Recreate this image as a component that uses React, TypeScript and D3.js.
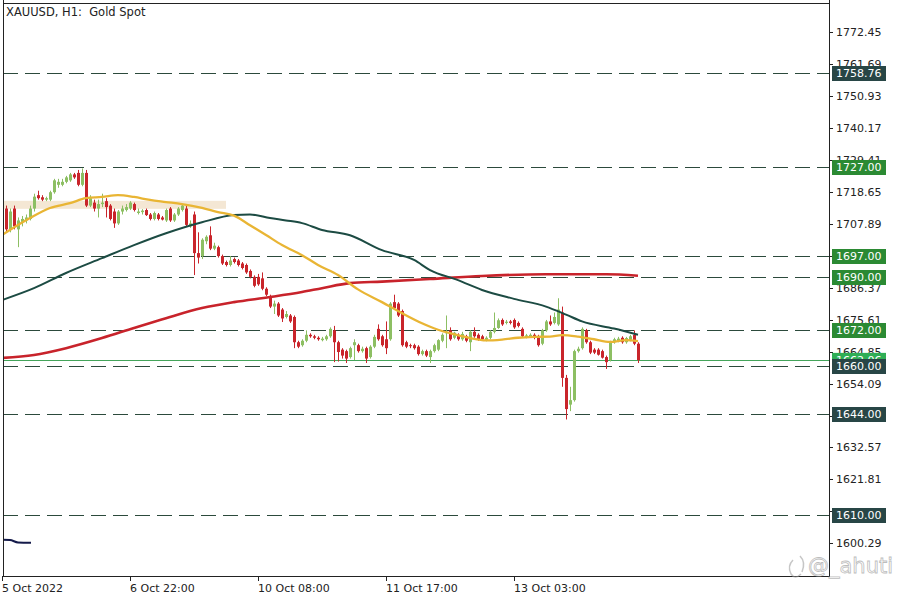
import * as d3 from "d3";

// --- data (H1 bars, index 0 = first bar at the left edge) ---
const opens = [
  1712, 1713, 1706, 1713, 1706, 1708.5, 1709, 1709.5, 1713, 1717.5, 1716.8,
  1716, 1716, 1718.5, 1721, 1721, 1722, 1722.5, 1724.5, 1725, 1721,
  1725, 1714, 1715, 1713, 1714.5, 1715.5, 1714, 1712, 1708, 1712,
  1712.5, 1713, 1714.5, 1711.5, 1711.8, 1712.5, 1711, 1709.5, 1711, 1710,
  1709, 1713, 1709, 1711, 1712.5, 1713, 1707, 1711, 1698, 1697,
  1702, 1704, 1699.5, 1700, 1697, 1695, 1694, 1696, 1695.5, 1694.5,
  1694, 1692, 1690, 1690, 1689.5, 1686, 1683.5, 1680, 1681, 1679,
  1676.5, 1677, 1676.5, 1668, 1667, 1668.5, 1670.5, 1670, 1669.5, 1668.7,
  1669, 1670, 1672, 1668, 1665.5, 1665, 1663, 1667, 1667, 1665,
  1666, 1663, 1666.5, 1672.5, 1670, 1669, 1669, 1681.5, 1681, 1678.5,
  1668, 1667, 1667, 1666.5, 1664, 1665, 1663, 1665, 1665.5, 1668.5,
  1671, 1672, 1669.5, 1670.5, 1669, 1670, 1668, 1671.5, 1670.5, 1670,
  1668.8, 1669.5, 1671.5, 1672.8, 1675.5, 1674.5, 1675, 1675.5, 1674.5, 1672.5,
  1669.8, 1670, 1670.5, 1670, 1667.5, 1672, 1675, 1674.5, 1674, 1678,
  1656, 1647, 1648.5, 1665, 1666, 1672, 1668, 1665.5, 1665.5, 1665,
  1663, 1662, 1668, 1668.5, 1669.5, 1668, 1668.8, 1670.5, 1667.5,
];
const highs = [
  1714, 1714, 1713, 1714, 1710, 1710.5, 1711, 1714, 1718, 1719, 1717.5,
  1717, 1719, 1723, 1723, 1723, 1724, 1725, 1725, 1726, 1726.5,
  1726, 1717.5, 1716, 1716, 1718, 1716.5, 1714.5, 1713, 1712.5, 1714,
  1714.5, 1715.5, 1715, 1713, 1712.8, 1713, 1711.5, 1712, 1711.5, 1710.5,
  1713, 1713.5, 1711.5, 1713.5, 1714.5, 1714, 1709, 1712, 1705, 1703,
  1704, 1707, 1701.5, 1700.5, 1697.5, 1695.5, 1697, 1696.5, 1696, 1695,
  1694.5, 1692.5, 1690.5, 1691, 1691.5, 1686.5, 1684, 1682, 1681.5, 1679.5,
  1678.5, 1677.5, 1677, 1668.5, 1669, 1672, 1671, 1670.5, 1670, 1669.8,
  1670.5, 1673, 1673.5, 1668.5, 1666, 1665.5, 1666.5, 1669, 1667.5, 1666.5,
  1666.5, 1667, 1670.5, 1674, 1670.5, 1675, 1681.5, 1684, 1681.5, 1679,
  1668.5, 1667.5, 1667.5, 1667, 1665.5, 1665.5, 1665.5, 1667.5, 1669, 1671,
  1677, 1673, 1671.5, 1671, 1671.5, 1670.5, 1672, 1673, 1671, 1670.5,
  1670, 1672, 1678, 1676, 1676, 1675.5, 1675.5, 1676, 1675, 1673,
  1670.8, 1671, 1671, 1670.5, 1672.5, 1675.5, 1677, 1678, 1682.8, 1680,
  1657, 1653, 1665.5, 1666.5, 1673, 1672.5, 1668.5, 1666, 1666, 1665.5,
  1663.5, 1668.5, 1669.5, 1669.8, 1670, 1669.8, 1670.5, 1672, 1668,
];
const lows = [
  1707, 1705, 1705, 1706, 1700, 1707, 1708, 1709, 1712, 1716, 1715.5,
  1715.5, 1715.5, 1718, 1720, 1720.5, 1721.5, 1722, 1723, 1720.5, 1720.5,
  1713.5, 1713.5, 1712, 1710, 1713.5, 1710, 1709, 1706.5, 1707.5, 1711,
  1712, 1712.5, 1712, 1711, 1711, 1710.5, 1709, 1709, 1709, 1709,
  1708.5, 1708.5, 1708.5, 1710.5, 1712, 1707, 1706.5, 1690.6, 1694.5, 1696,
  1701, 1699, 1699, 1696.5, 1694, 1693.5, 1693.5, 1694.5, 1693.5, 1692.5,
  1691, 1689.5, 1686.5, 1687, 1685.5, 1683.5, 1679.5, 1677.5, 1676.5, 1674.8,
  1676, 1674.5, 1666, 1666, 1666.5, 1668, 1669.5, 1669, 1668.5, 1668.3,
  1668.5, 1669.5, 1661.3, 1661.5, 1662.5, 1661, 1662.5, 1662, 1664.5, 1664.5,
  1661, 1662.5, 1666, 1668.5, 1666.5, 1664, 1668.5, 1679, 1676.5, 1666.5,
  1666, 1666, 1665.5, 1663.5, 1663.5, 1663, 1661, 1664.5, 1665, 1668,
  1666, 1668.5, 1669, 1668.5, 1668.5, 1668, 1665, 1669.5, 1668.5, 1668.5,
  1668.3, 1669, 1671, 1672.5, 1673.5, 1674, 1674, 1672.5, 1673, 1669.5,
  1669.3, 1669.5, 1669, 1666.5, 1667, 1671.5, 1673.5, 1674, 1673.5, 1653,
  1642, 1644.8, 1648, 1664.5, 1665.5, 1667.5, 1664, 1664, 1663.5, 1662.5,
  1659, 1661.5, 1667.5, 1668, 1667.5, 1667.5, 1668.3, 1667, 1661,
];
const closes = [
  1708, 1706, 1712, 1707, 1709, 1709.5, 1710, 1713, 1717, 1716.5, 1716,
  1716.5, 1718.5, 1722.5, 1722, 1722, 1723.5, 1724.5, 1723.5, 1721, 1725,
  1714, 1716.5, 1713, 1714.5, 1715, 1713.5, 1709.5, 1708, 1712, 1713,
  1713.5, 1715, 1712.5, 1712, 1712.3, 1710.8, 1709.5, 1711.5, 1709.5, 1709.3,
  1712.5, 1709, 1711, 1713, 1714, 1707.5, 1708, 1698, 1696.5, 1702.5,
  1703.5, 1699.5, 1700.5, 1697, 1694.5, 1694, 1695.5, 1695, 1694, 1693,
  1691.5, 1690, 1687, 1687.5, 1686, 1684, 1680, 1681, 1677, 1676,
  1677.5, 1675, 1668, 1666.5, 1668.5, 1670.5, 1670, 1669.5, 1669, 1669.2,
  1670, 1672.5, 1668, 1664.7, 1663.5, 1662.5, 1666, 1668, 1665, 1665.8,
  1662.5, 1666.5, 1669.8, 1669, 1667, 1666, 1681, 1679.5, 1677, 1667,
  1666.5, 1666.8, 1666, 1664, 1665, 1663.5, 1665, 1667, 1668.7, 1670.5,
  1671.5, 1669, 1671.2, 1669, 1670.8, 1668.5, 1671.5, 1670, 1669, 1669,
  1669.5, 1671.5, 1672.8, 1675.4, 1674, 1674.9, 1674.5, 1673, 1673.5, 1670,
  1670.3, 1670.5, 1669.5, 1667, 1672, 1675, 1674, 1676.5, 1679, 1656,
  1645.5, 1648.5, 1665, 1665.8, 1672.5, 1668, 1664.5, 1664.5, 1663.8, 1662.8,
  1661.3, 1668, 1669, 1669.2, 1668, 1669.4, 1670, 1667.5, 1662,
];

// moving averages sampled at bar indices
const fastMaBars = [0, 7, 12, 17, 21, 25, 29, 33, 37, 41, 45, 50, 54, 58, 62, 66, 70, 75, 79, 84, 89, 95, 100, 105, 109, 113, 117, 121, 125, 129, 133, 137, 140, 144, 148, 152, 156, 159];
const fastMaValues = [1704.1, 1709.8, 1713.2, 1714.8, 1716.5, 1716.9, 1717.5, 1716.9, 1715.9, 1715.2, 1714.5, 1713.2, 1711.8, 1710.6, 1707.4, 1704.1, 1700.7, 1697.3, 1694.0, 1690.6, 1685.8, 1681.5, 1677.8, 1674.4, 1672.2, 1670.7, 1669.4, 1668.6, 1668.9, 1669.5, 1669.8, 1669.9, 1670.4, 1669.9, 1669.0, 1668.1, 1668.7, 1668.4];
const midMaBars = [0, 8, 16, 25, 33, 41, 50, 58, 62, 67, 71, 75, 80, 87, 95, 103, 107, 114, 120, 128, 136, 141, 145, 153, 159];
const midMaValues = [1682.2, 1686.2, 1691.3, 1696.3, 1700.7, 1704.7, 1708.4, 1710.8, 1711.0, 1709.8, 1709.0, 1708.1, 1705.8, 1704.0, 1699.0, 1695.7, 1692.3, 1688.9, 1685.6, 1682.6, 1680.0, 1677.3, 1675.0, 1672.6, 1670.5];
const slowMaBars = [0, 8, 16, 25, 33, 41, 50, 58, 67, 75, 80, 87, 95, 107, 120, 136, 151, 159];
const slowMaValues = [1662.7, 1663.7, 1666, 1669.4, 1672.8, 1676.1, 1679.5, 1681.5, 1683.2, 1684.9, 1686.2, 1687.9, 1688.4, 1689.3, 1690.3, 1690.9, 1690.9, 1690.4];
const navyBars = [0, 2, 4, 7.25];
const navyValues = [1601.5, 1601.4, 1600.6, 1600.5];

const yTicks = [1600.29, 1611.05, 1621.81, 1632.57, 1643.33, 1654.09, 1664.85, 1675.61, 1686.37, 1697.13, 1707.89, 1718.65, 1729.41, 1740.17, 1750.93, 1761.69, 1772.45];
// labels fully hidden under a level tag in the original
const hiddenTickLabels = [1611.05, 1643.33, 1697.13];
const levels = [1758.76, 1727, 1697, 1690, 1672, 1660, 1644, 1610];
const levelKinds = ["dark", "green", "green", "green", "green", "dark", "dark", "dark"];
const lastPrice = 1662.06;
const xTickBars = [0, 32, 64, 96, 128];
const xTickLabels = ["5 Oct 2022", "6 Oct 22:00", "10 Oct 08:00", "11 Oct 17:00", "13 Oct 03:00"];
const zone = { from: 0, to: 56, top: 1715.6, bottom: 1712.9 };

const W = 900;
const H = 600;
const left = 3;
const right = 829;
const top = 3;
const bottom = 576;
const font = "DejaVu Sans, Verdana, sans-serif";

export default function App() {
  const x = d3.scaleLinear().domain([0, 159]).range([2, 638]);
  const y = d3.scaleLinear().domain([1589.3, 1782.2]).range([bottom, top]);

  const maLine = (bars: number[], vals: number[]) =>
    d3.line<number>()
      .x((_, i) => x(bars[i]))
      .y((d) => y(d))
      .curve(d3.curveMonotoneX)(vals) as string;

  const bull = "#8dbf63";
  const bear = "#c9252b";

  return (
    <svg width={W} height={H} style={{ position: "absolute", left: 0, top: 0, background: "#fff" }} fontFamily={font}>
      <defs>
        <clipPath id="plot">
          <rect x={left} y={top} width={right - left} height={bottom - top} />
        </clipPath>
      </defs>
      <rect width={W} height={H} fill="#fff" />

      <g clipPath="url(#plot)">
        {/* shaded zone */}
        <rect x={x(zone.from)} y={y(zone.top)} width={x(zone.to) - x(zone.from)} height={y(zone.bottom) - y(zone.top)} fill="#f3e4cf" opacity={0.9} />

        {/* horizontal levels */}
        {levels.map((v, i) => (
          <line key={i} x1={left} x2={right} y1={Math.round(y(v)) + 0.5} y2={Math.round(y(v)) + 0.5}
            stroke="#2c4a3c" strokeWidth={1} strokeDasharray="15,7" />
        ))}
        <line x1={left} x2={right} y1={Math.round(y(lastPrice)) + 0.5} y2={Math.round(y(lastPrice)) + 0.5} stroke="#43a45a" strokeWidth={1} />

        {/* candles */}
        {opens.map((o, i) => {
          const c = closes[i];
          const col = c >= o ? bull : bear;
          const cx = Math.round(x(i)) + 0.5;
          const yt = y(Math.max(o, c));
          const yb = y(Math.min(o, c));
          return (
            <g key={i}>
              <line x1={cx} x2={cx} y1={y(highs[i])} y2={y(lows[i])} stroke={col} strokeWidth={1} />
              <rect x={cx - 1.5} y={yt} width={3} height={Math.max(1, yb - yt)} fill={col} />
            </g>
          );
        })}

        {/* moving averages */}
        <path d={maLine(slowMaBars, slowMaValues)} fill="none" stroke="#c8232b" strokeWidth={2.6} />
        <path d={maLine(midMaBars, midMaValues)} fill="none" stroke="#1c4b43" strokeWidth={2} />
        <path d={maLine(fastMaBars, fastMaValues)} fill="none" stroke="#e9b534" strokeWidth={2.3} />
        <path d={maLine(navyBars, navyValues)} fill="none" stroke="#141a4a" strokeWidth={2} />
      </g>

      {/* frame */}
      <line x1={left + 0.5} x2={left + 0.5} y1={0} y2={bottom} stroke="#222" />
      <line x1={left} x2={right} y1={top + 0.5} y2={top + 0.5} stroke="#222" />
      <line x1={right + 0.5} x2={right + 0.5} y1={0} y2={bottom + 1} stroke="#222" />
      <line x1={left} x2={right + 1} y1={bottom + 0.5} y2={bottom + 0.5} stroke="#222" />

      <text x={6} y={16} fontSize={11.5} fill="#222" xmlSpace="preserve">XAUUSD, H1:  Gold Spot</text>

      {/* y axis */}
      {yTicks.map((v, i) => (
        <g key={i}>
          <line x1={right} x2={right + 4} y1={Math.round(y(v)) + 0.5} y2={Math.round(y(v)) + 0.5} stroke="#222" />
          {!hiddenTickLabels.includes(v) && (
            <text x={836} y={y(v)} dy="0.36em" fontSize={11} fill="#222">{v.toFixed(2)}</text>
          )}
        </g>
      ))}

      {/* last price tag */}
      <rect x={832} y={y(lastPrice) - 7} width={54} height={14} fill="#2fae55" />
      <text x={836} y={y(lastPrice)} dy="0.36em" fontSize={11} fill="#fff">{lastPrice.toFixed(2)}</text>

      {/* level tags */}
      {levels.map((v, i) => (
        <g key={i}>
          <rect x={832} y={Math.round(y(v)) - 7} width={54} height={15} fill={levelKinds[i] === "green" ? "#2b8a33" : "#284646"} />
          <text x={836} y={Math.round(y(v)) + 0.5} dy="0.36em" fontSize={11} fill="#fff">{v.toFixed(2)}</text>
        </g>
      ))}

      {/* x axis */}
      {xTickBars.map((b, i) => (
        <g key={i}>
          <line x1={Math.round(x(b)) + 0.5} x2={Math.round(x(b)) + 0.5} y1={bottom} y2={bottom + 5} stroke="#222" />
          <text x={x(b)} y={592} fontSize={11} fill="#222">{xTickLabels[i]}</text>
        </g>
      ))}

      {/* watermark */}
      <g opacity={0.55}>
        <path d="M793,560 q-6,6 -2,14 q4,6 10,0 M800,556 q6,6 2,16" fill="none" stroke="#999" strokeWidth={1.5} />
        <text x={808} y={573} fontSize={21} fill="#fff" stroke="#888" strokeWidth={0.8}>@_ahuti</text>
      </g>
    </svg>
  );
}
